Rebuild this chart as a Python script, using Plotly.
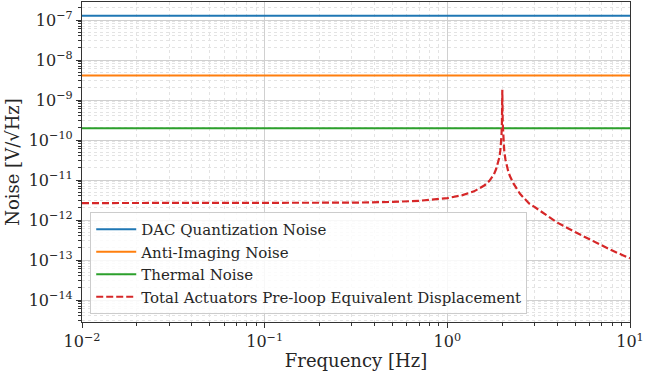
import plotly.graph_objects as go

# Frequencies [Hz] for flat noise lines
freq_flat = [0.01, 10.0]
dac_noise = [1.28e-7, 1.28e-7]
anti_imaging_noise = [4.1e-9, 4.1e-9]
thermal_noise = [1.96e-10, 1.96e-10]

# Total actuators pre-loop equivalent displacement
freq_total = [0.01, 0.02, 0.05, 0.1, 0.2, 0.3, 0.5, 0.7, 1.0, 1.2, 1.4, 1.6, 1.7,
              1.8, 1.85, 1.9, 1.93, 1.95, 1.97, 1.98, 1.99, 2.0, 2.01, 2.02, 2.03,
              2.05, 2.08, 2.1, 2.15, 2.2, 2.3, 2.5, 2.8, 3.0, 3.5, 4.0, 5.0, 6.0,
              7.0, 8.0, 9.0, 10.0]
total_noise = [2.65e-12, 2.65e-12, 2.65e-12, 2.66e-12, 2.68e-12, 2.71e-12, 2.83e-12,
               3.02e-12, 3.53e-12, 4.14e-12, 5.2e-12, 7.36e-12, 9.55e-12, 1.39e-11,
               1.88e-11, 2.72e-11, 3.8e-11, 5.4e-11, 8.9e-11, 1.33e-10, 2.66e-10,
               1.8e-9, 2.64e-10, 1.32e-10, 8.8e-11, 5.2e-11, 3.25e-11, 2.6e-11,
               1.71e-11, 1.26e-11, 8.2e-12, 4.5e-12, 2.6e-12, 2.12e-12, 1.28e-12,
               8.6e-13, 5.0e-13, 3.3e-13, 2.25e-13, 1.72e-13, 1.36e-13, 1.1e-13]

x_tickvals = [0.01, 0.1, 1, 10]
x_ticktext = ["10<sup>\u22122</sup>", "10<sup>\u22121</sup>", "10<sup>0</sup>", "10<sup>1</sup>"]
y_tickvals = [1e-14, 1e-13, 1e-12, 1e-11, 1e-10, 1e-9, 1e-8, 1e-7]
y_ticktext = ["10<sup>\u2212%d</sup>" % k for k in [14, 13, 12, 11, 10, 9, 8, 7]]

# minor tick positions (2..9 in each decade)
x_minor = [m * 10.0 ** e for e in range(-2, 1) for m in range(2, 10)]
y_minor = [m * 10.0 ** e for e in range(-15, -6) for m in range(2, 10)]

FONT = "DejaVu Serif"
TXT = "#262626"


def axis_style(minor_vals):
    return dict(
        showline=True, linecolor="#333333", linewidth=1.3, mirror=True,
        ticks="outside", ticklen=5, tickwidth=1.2, tickcolor="#333333",
        showgrid=True, gridcolor="#d0d0d0", gridwidth=1,
        zeroline=False,
        tickfont=dict(family=FONT, size=16, color=TXT),
        minor=dict(tickmode="array", tickvals=minor_vals,
                   ticks="outside", ticklen=3, tickcolor="#333333", tickwidth=1,
                   showgrid=True, gridcolor="#e3e3e3", griddash="dot", gridwidth=1),
    )


fig = go.Figure()
fig.add_trace(go.Scatter(x=freq_flat, y=dac_noise, mode="lines",
                         name="DAC Quantization Noise",
                         line=dict(color="#1f77b4", width=2)))
fig.add_trace(go.Scatter(x=freq_flat, y=anti_imaging_noise, mode="lines",
                         name="Anti-Imaging Noise",
                         line=dict(color="#ff7f0e", width=2)))
fig.add_trace(go.Scatter(x=freq_flat, y=thermal_noise, mode="lines",
                         name="Thermal Noise",
                         line=dict(color="#2ca02c", width=2)))
fig.add_trace(go.Scatter(x=freq_total, y=total_noise, mode="lines",
                         name="Total Actuators Pre-loop Equivalent Displacement",
                         line=dict(color="#d62728", width=2.2, dash="7px,3px")))

fig.update_xaxes(type="log", range=[-2, 1], tickmode="array",
                 tickvals=x_tickvals, ticktext=x_ticktext,
                 title=dict(text="Frequency [Hz]", font=dict(family=FONT, size=18, color=TXT),
                            standoff=4),
                 **axis_style(x_minor))
fig.update_yaxes(type="log", range=[-14.55, -6.55], tickmode="array",
                 tickvals=y_tickvals, ticktext=y_ticktext,
                 title=dict(text="Noise [V/\u221aHz]", font=dict(family=FONT, size=18, color=TXT),
                            standoff=4),
                 **axis_style(y_minor))

fig.update_layout(
    width=645, height=373,
    margin=dict(l=82, r=15, t=2, b=51),
    plot_bgcolor="white", paper_bgcolor="white",
    font=dict(family=FONT, color=TXT),
    showlegend=True,
    legend=dict(x=0.015, y=0.025, xanchor="left", yanchor="bottom",
                bgcolor="rgba(255,255,255,0.85)", bordercolor="#cccccc", borderwidth=1,
                font=dict(family=FONT, size=15, color=TXT),
                tracegroupgap=0, itemwidth=40),
)

fig.write_html("out.html")
